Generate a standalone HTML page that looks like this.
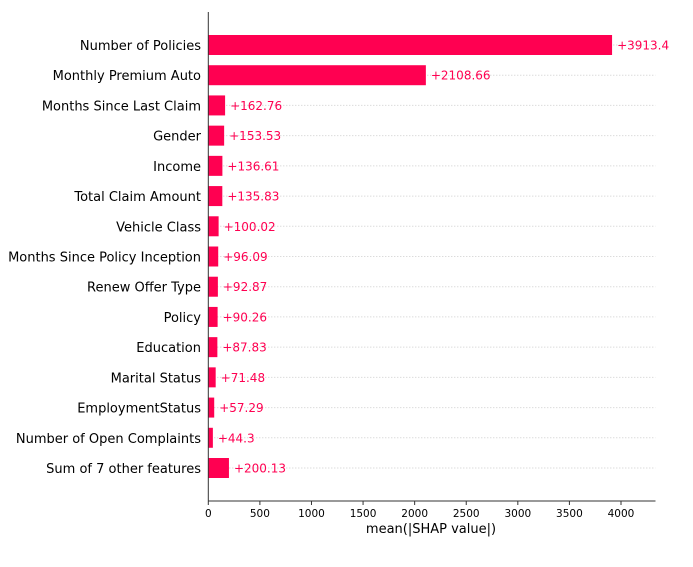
<!DOCTYPE html>
<html><head><meta charset="utf-8"><style>
body{margin:0;background:#fff;font-family:"DejaVu Sans","Liberation Sans",sans-serif;}
</style></head><body>
<svg width="693" height="563" xmlns="http://www.w3.org/2000/svg">
<g id="grid"></g><g id="bars"></g><g id="labels"></g><g id="axis"></g>
</svg>
<script>
const features=["Number of Policies","Monthly Premium Auto","Months Since Last Claim","Gender","Income","Total Claim Amount","Vehicle Class","Months Since Policy Inception","Renew Offer Type","Policy","Education","Marital Status","EmploymentStatus","Number of Open Complaints","Sum of 7 other features"];
const values=[3913.4,2108.66,162.76,153.53,136.61,135.83,100.02,96.09,92.87,90.26,87.83,71.48,57.29,44.3,200.13];
const valueLabels=["+3913.4","+2108.66","+162.76","+153.53","+136.61","+135.83","+100.02","+96.09","+92.87","+90.26","+87.83","+71.48","+57.29","+44.3","+200.13"];
const ticks=[0,500,1000,1500,2000,2500,3000,3500,4000];
const NS="http://www.w3.org/2000/svg";
const x0=208.3,xs=(621-208.3)/4000,xEnd=655.5;
const y=i=>45+i*(468-45)/14;
const x=v=>x0+v*xs;
function mk(t,a,p){const e=document.createElementNS(NS,t);for(const k in a)e.setAttribute(k,a[k]);p.appendChild(e);return e;}
const G=document.getElementById('grid'),B=document.getElementById('bars'),L=document.getElementById('labels'),A=document.getElementById('axis');
features.forEach((f,i)=>{
 const g=mk('line',{x1:x0,x2:xEnd,y1:y(i),y2:y(i),stroke:'#ccc','stroke-width':1,'stroke-dasharray':'1,2'},G);
 
 
 const r=mk('rect',{x:x0,y:y(i)-10,width:x(values[i])-x0,height:20,fill:'#ff0051'},B);
 
 
 const t=mk('text',{x:201,y:y(i)+5,'text-anchor':'end','font-size':13,fill:'#000'},L);
 t.textContent=f;
 
 
 const v=mk('text',{x:x(values[i])+5,y:y(i)+4.5,'font-size':12,fill:'#ff0051'},L);
 v.textContent=valueLabels[i];
 
 
});
const sp=mk('line',{x1:x0,x2:x0,y1:12,y2:501,stroke:'#333','stroke-width':1},A);


const ax=mk('line',{x1:x0,x2:xEnd,y1:501,y2:501,stroke:'#333','stroke-width':1},A);


ticks.forEach(tv=>{
 mk('line',{x1:x(tv),x2:x(tv),y1:501,y2:505,stroke:'#333'},A);
 const t=mk('text',{x:x(tv),y:517,'text-anchor':'middle','font-size':10.5,fill:'#000'},A);
 t.textContent=tv;
 
 
});
const xt=mk('text',{x:431,y:533,'text-anchor':'middle','font-size':13,fill:'#000'},A);
xt.textContent='mean(|SHAP value|)';


</script>
</body></html>
